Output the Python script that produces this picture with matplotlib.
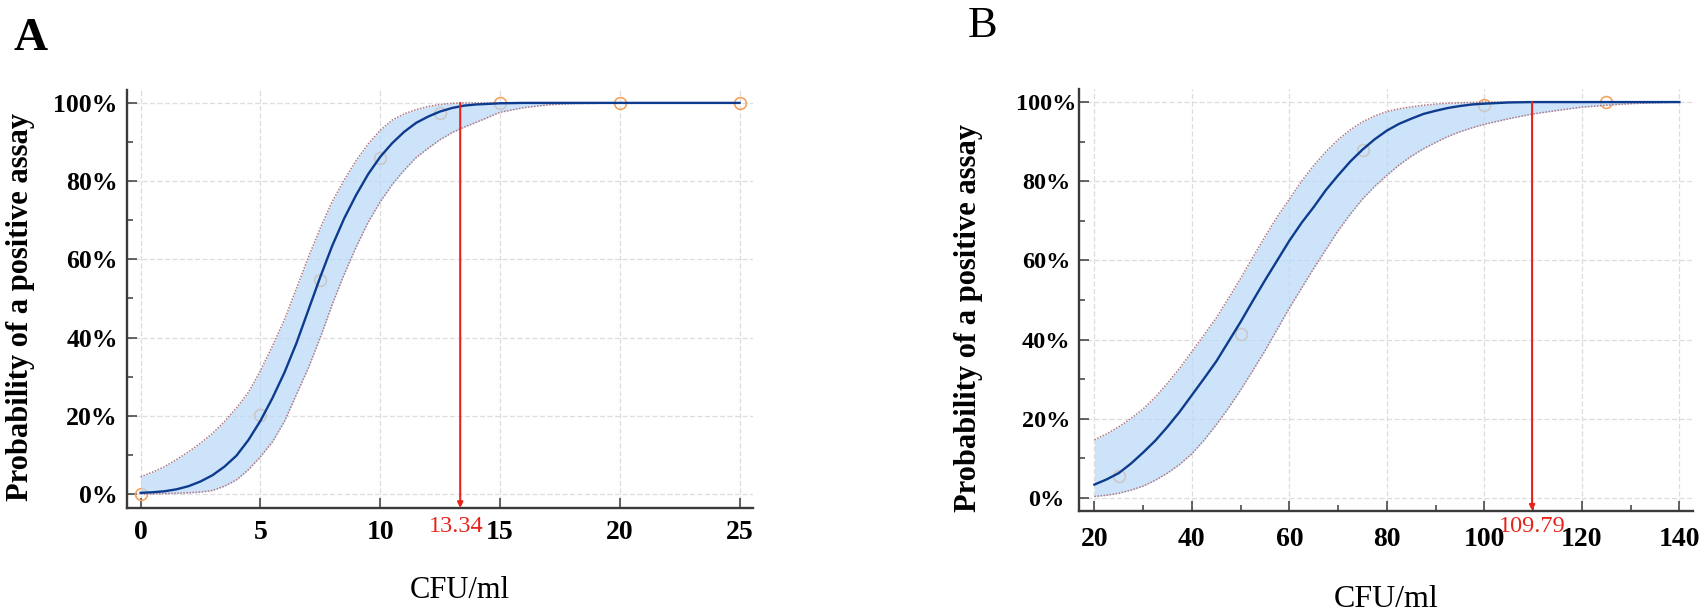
import matplotlib
matplotlib.use('Agg')
import matplotlib.pyplot as plt
from matplotlib.ticker import MultipleLocator, FixedLocator

W, H, DPI = 1701, 613, 100
plt.rcParams['font.family'] = ['Liberation Serif', 'DejaVu Serif']

# ---------------- Panel A data (CFU/ml vs probability, %) ----------------
a_curve_x = [0, 0.5, 1, 1.5, 2, 2.5, 3, 3.5, 4, 4.5, 5, 5.5, 6, 6.5, 7, 7.5,
             8, 8.5, 9, 9.5, 10, 10.5, 11, 11.5, 12, 12.5, 13, 13.5, 14,
             15, 16, 17, 18, 20, 22, 25]
a_mid = [0.3, 0.45, 0.7, 1.2, 2.0, 3.2, 4.8, 7.0, 9.8, 13.8, 18.7, 24.5, 31,
         38.5, 47, 55.5, 63.5, 70.5, 76.5, 81.8, 86.2, 89.7, 92.6, 94.9, 96.5,
         97.8, 98.7, 99.3, 99.6,
         99.9, 100, 100, 100, 100, 100, 100]
a_upper = [4.4, 5.6, 7.0, 8.8, 10.8, 13, 15.5, 18.5, 22, 26, 31.5, 37.8, 44.5,
           52.5, 60.5, 68, 74.8, 80.3, 85.3, 89.5, 93, 95.6, 97.2, 98.3, 99.1,
           99.6, 99.9, 100, 100,
           100, 100, 100, 100, 100, 100, 100]
a_lower = [0, 0.05, 0.1, 0.2, 0.3, 0.5, 0.9, 2.0, 3.6, 6.2, 9.5, 13.3, 18.5,
           25.4, 32.2, 40, 48.5, 56.2, 63.2, 69.5, 74.7, 79.1, 82.8, 86, 88.4,
           90.6, 92.4, 93.8, 95,
           97.6, 98.8, 99.5, 99.8, 100, 100, 100]
a_obs_x = [0, 5, 7.5, 10, 12.5, 15, 20, 25]
a_obs_y = [0, 20.2, 54.7, 86, 97.5, 100, 100, 100]
a_lod = 13.34
a_lod_label = '13.34'
a_xticks = [0, 5, 10, 15, 20, 25]

# ---------------- Panel B data ----------------
b_curve_x = [20, 22.5, 25, 27.5, 30, 32.5, 35, 37.5, 40, 42.5, 45, 47.5, 50,
             52.5, 55, 57.5, 60, 62.5, 65, 67.5, 70, 72.5, 75, 77.5, 80, 82.5,
             85, 87.5, 90, 92.5, 95, 97.5, 100,
             105, 110, 115, 120, 125, 130, 135, 140]
b_mid = [3.4, 4.7, 6.3, 8.7, 11.5, 14.5, 18, 21.8, 26, 30.2, 34.5, 39.5, 44.5,
         49.8, 55, 60, 65, 69.5, 73.5, 77.8, 81.5, 85, 88, 90.6, 92.8, 94.5,
         95.8, 97, 97.8, 98.5, 99, 99.4, 99.6,
         99.9, 100, 100, 100, 100, 100, 100, 100]
b_upper = [14.7, 16.2, 18, 20.1, 22.5, 25.5, 29, 32.8, 37, 41.2, 45.5, 50.4,
           55.5, 60.8, 66, 71, 75.5, 80, 84, 87.5, 90.5, 93, 95, 96.5, 97.6,
           98.3, 98.8, 99.2, 99.5, 99.7, 99.8, 99.9, 100,
           100, 100, 100, 100, 100, 100, 100, 100]
b_lower = [0.4, 0.7, 1.2, 2, 3, 4.5, 6.3, 8.5, 11.2, 14.6, 18.5, 22.7, 27.3,
           32.2, 37.2, 42.6, 48, 53, 58, 62.8, 67.5, 71.7, 75.5, 78.7, 81.5,
           84.1, 86.3, 88.2, 89.8, 91.3, 92.5, 93.5, 94.4,
           95.8, 97, 97.9, 98.7, 99.2, 99.6, 99.8, 100]
b_obs_x = [25, 50, 75, 100, 125]
b_obs_y = [5.5, 41.5, 88, 99.3, 100]
b_lod = 109.79
b_lod_label = '109.79'
b_xticks = [20, 40, 60, 80, 100, 120, 140]

yticks = [0, 20, 40, 60, 80, 100]
ytick_labels = ['0%', '20%', '40%', '60%', '80%', '100%']
ylabel = 'Probability of a positive assay'
xlabel = 'CFU/ml'

# ---------------- styles ----------------
FILL = '#b8d8f8'
MID = '#0d3b8e'
EDGE = '#b07880'
OBS = '#f3a35e'
GRID = '#dddddd'
SPINE = '#3a3a3a'
RED = '#e8231a'

fig = plt.figure(figsize=(W / DPI, H / DPI), dpi=DPI)


def frac_rect(l, t, r, b):
    return [l / W, 1 - b / H, (r - l) / W, (b - t) / H]


def px2pt(p):
    return p * 72.0 / DPI


def style_axes(ax, xticks, xlim, ylim, xminor, ypad, yha, ysize, xpad):
    ax.set_xlim(*xlim)
    ax.set_ylim(*ylim)
    for s in ('top', 'right'):
        ax.spines[s].set_visible(False)
    for s in ('left', 'bottom'):
        ax.spines[s].set_color(SPINE)
        ax.spines[s].set_linewidth(1.7)
    ax.xaxis.set_major_locator(FixedLocator(xticks))
    ax.set_xticklabels([str(v) for v in xticks])
    ax.set_yticks(yticks)
    ax.set_yticklabels(ytick_labels)
    ax.yaxis.set_minor_locator(MultipleLocator(10))
    if xminor:
        ax.xaxis.set_minor_locator(MultipleLocator(xminor))
    ax.tick_params(which='both', direction='in', color=SPINE, width=1.1)
    ax.tick_params(which='major', length=7)
    ax.tick_params(which='minor', length=4)
    ax.tick_params(axis='y', which='major', pad=px2pt(ypad), labelsize=ysize)
    ax.tick_params(axis='x', which='major', pad=px2pt(xpad), labelsize=20)
    for lab in ax.get_yticklabels():
        lab.set_fontweight('bold')
        lab.set_horizontalalignment(yha)
    for lab in ax.get_xticklabels():
        lab.set_fontweight('bold')
    ax.grid(True, which='major', color=GRID, linestyle=(0, (4, 2)), linewidth=0.9)
    ax.set_axisbelow(True)


def draw_panel(ax, cx, mid, up, lo, ox, oy, lod, lod_label, lod_dx, lod_off):
    ax.plot(ox, oy, 'o', mfc='none', mec=OBS, mew=1.2, ms=8.5, zorder=1)
    ax.fill_between(cx, lo, up, color=FILL, alpha=0.7, lw=0, zorder=2)
    ax.plot(cx, up, color=EDGE, lw=1.1, ls=(0, (1, 1)), zorder=3)
    ax.plot(cx, lo, color=EDGE, lw=1.1, ls=(0, (1, 1)), zorder=3)
    ax.plot(cx, mid, color=MID, lw=1.7, zorder=4)
    ybot = ax.get_ylim()[0]
    ax.annotate('', xy=(lod, ybot), xytext=(lod, 100),
                arrowprops=dict(arrowstyle='-|>', color=RED, lw=1.5,
                                mutation_scale=8, shrinkA=0, shrinkB=0),
                annotation_clip=False, zorder=5)
    ax.annotate(lod_label, xy=(lod, 0), xycoords=('data', 'axes fraction'),
                xytext=(px2pt(lod_dx), -px2pt(lod_off)), textcoords='offset points',
                ha='center', va='center', color=RED, fontsize=17.5,
                annotation_clip=False)


# Panel A
axA = fig.add_axes(frac_rect(126.7, 90, 753, 508))
style_axes(axA, a_xticks, (-0.58, 25.56), (-3.58, 103.3), None,
           ypad=9, yha='right', ysize=18.5, xpad=12)
draw_panel(axA, a_curve_x, a_mid, a_upper, a_lower, a_obs_x, a_obs_y,
           a_lod, a_lod_label, -4, 19)

# Panel B
axB = fig.add_axes(frac_rect(1079.3, 89, 1693, 510.7))
style_axes(axB, b_xticks, (16.9, 142.8), (-3.2, 103.3), 10,
           ypad=33, yha='center', ysize=17.5, xpad=16)
draw_panel(axB, b_curve_x, b_mid, b_upper, b_lower, b_obs_x, b_obs_y,
           b_lod, b_lod_label, 0, 16)


def ftext(x, y, s, **kw):
    fig.text(x / W, 1 - y / H, s, **kw)


ftext(31, 50, 'A', fontsize=34, fontweight='bold', ha='center', va='baseline')
ftext(983, 37, 'B', fontsize=32, ha='center', va='baseline')
ftext(21, 307, ylabel, fontsize=22, fontweight='bold', rotation=90,
      ha='center', va='center')
ftext(968, 318, ylabel, fontsize=22, fontweight='bold', rotation=90,
      ha='center', va='center')
ftext(460, 598, xlabel, fontsize=22, ha='center', va='baseline')
ftext(1386, 607, xlabel, fontsize=23, ha='center', va='baseline')

fig.savefig('out.png', dpi=DPI)
